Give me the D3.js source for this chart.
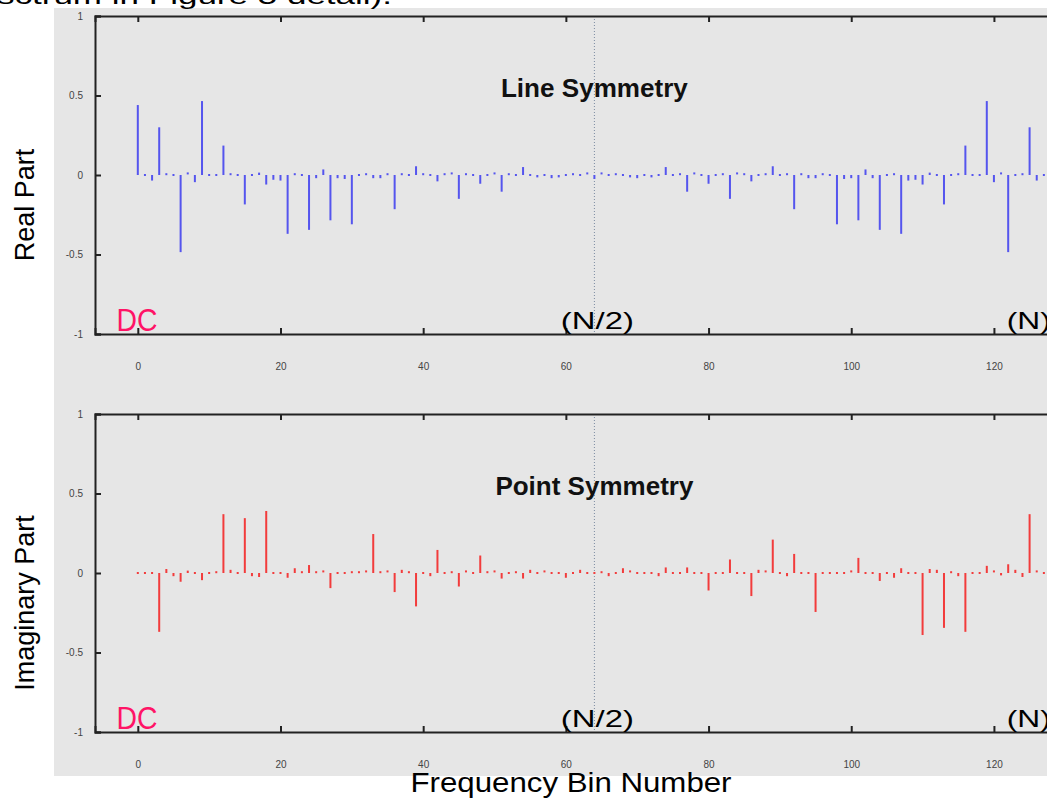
<!DOCTYPE html>
<html>
<head>
<meta charset="utf-8">
<script src="https://cdn.jsdelivr.net/npm/d3@7"></script>
<style>
  body { margin: 0; background: #fff; }
  text { font-family: "Liberation Sans", Arial, sans-serif; }
</style>
</head>
<body>
<svg id="chart" width="1047" height="798"></svg>
<script>
// FFT output, N = 128 bins
const bins = d3.range(0, 128);

const realPart = [
  0.44, -0.01, -0.035, 0.30, 0.005, 0, -0.485, 0.01, -0.045, 0.465, 0, 0, 0.185, 0.005, 0, -0.185,
  -0.01, 0.015, -0.06, -0.03, -0.035, -0.37, 0.005, 0, -0.345, -0.02, 0.035, -0.285, -0.02, -0.025, -0.31, 0,
  0.005, -0.02, -0.02, 0.005, -0.215, 0.005, -0.005, 0.055, 0.005, -0.005, -0.04, 0.005, 0.01, -0.15, 0.005, -0.005,
  -0.055, -0.005, 0.01, -0.105, 0.005, 0, 0.05, -0.01, -0.015, -0.01, -0.02, -0.015, -0.01, 0.005, -0.01, 0.01,
  -0.025, 0.01, -0.01, 0.005, -0.01, -0.015, -0.02, -0.01, -0.015, -0.01, 0.05, 0, 0.005, -0.105, 0.01, -0.005,
  -0.055, -0.005, 0.005, -0.15, 0.01, 0.005, -0.04, -0.005, 0.005, 0.055, -0.005, 0.005, -0.215, 0.005, -0.02, -0.02,
  0.005, 0, -0.31, -0.025, -0.02, -0.285, 0.035, -0.02, -0.345, 0, 0.005, -0.37, -0.035, -0.03, -0.06, 0.015,
  -0.01, -0.185, 0, 0.005, 0.185, 0, 0, 0.465, -0.045, 0.01, -0.485, 0, 0.005, 0.30, -0.035, -0.01
];

const imagPart = [
  0, 0, -0.01, -0.37, 0.025, -0.02, -0.055, 0.015, -0.01, -0.045, 0, 0.005, 0.37, 0.02, -0.005, 0.345,
  -0.02, -0.025, 0.39, 0, 0, -0.03, 0.03, 0.005, 0.05, 0.005, 0.01, -0.095, -0.01, 0, 0.005, 0.005,
  0.01, 0.245, 0.005, 0.01, -0.12, 0.02, 0.005, -0.21, -0.01, -0.02, 0.145, 0, 0.005, -0.085, 0.01, 0,
  0.11, 0.005, 0.01, -0.035, 0, 0.005, -0.035, 0.02, 0, 0.01, 0, -0.01, -0.03, 0, 0.02, -0.005,
  0, 0.005, -0.02, 0, 0.03, 0.01, 0, -0.01, 0, -0.02, 0.035, -0.005, 0, 0.035, -0.01, -0.005,
  -0.11, 0, -0.01, 0.085, -0.005, 0, -0.145, 0.02, 0.01, 0.21, -0.005, -0.02, 0.12, -0.01, -0.005, -0.245,
  -0.01, -0.005, -0.005, 0, 0.01, 0.095, -0.01, -0.005, -0.05, -0.005, -0.03, 0.03, 0, 0, -0.39, 0.025,
  0.02, -0.345, 0.005, -0.02, -0.37, -0.005, 0, 0.045, 0.01, -0.015, 0.055, 0.02, -0.025, 0.37, 0.01, 0
];

const xTicks = [0, 20, 40, 60, 80, 100, 120];
const yTicks = [-1, -0.5, 0, 0.5, 1];
const yTickLabels = { "-1": "-1", "-0.5": "-0.5", "0": "0", "0.5": "0.5", "1": "1" };
const halfBin = 64;

const svg = d3.select("#chart");

// background
svg.append("rect").attr("width", 1047).attr("height", 798).attr("fill", "#fff");
svg.append("rect")
  .attr("x", 54).attr("y", 8)
  .attr("width", 993).attr("height", 768)
  .attr("fill", "#e6e6e6");

// clipped caption line from the page above the figure
svg.append("text")
  .attr("x", -3).attr("y", 4)
  .attr("font-family", "DejaVu Sans, sans-serif")
  .attr("font-size", 24)
  .attr("textLength", 395)
  .attr("lengthAdjust", "spacingAndGlyphs")
  .attr("fill", "#000")
  .text("sctrum in Figure 5 detail).");

const x = d3.scaleLinear().domain([-6, 128]).range([95, 1051]);

function drawPanel(values, color, top, bottom, title, yLabel) {
  const y = d3.scaleLinear().domain([-1, 1]).range([bottom, top]);
  const g = svg.append("g");

  // N/2 marker
  g.append("line")
    .attr("x1", x(halfBin)).attr("x2", x(halfBin))
    .attr("y1", y(1)).attr("y2", y(-1))
    .attr("stroke", "#7a8aa0")
    .attr("stroke-width", 1)
    .attr("stroke-dasharray", "1,2");

  // stems
  g.append("g")
    .selectAll("rect")
    .data(bins)
    .join("rect")
    .attr("x", (k) => x(k) - 1)
    .attr("width", 2)
    .attr("y", (k) => Math.min(y(0), y(values[k])) - (Math.abs(y(values[k]) - y(0)) < 2 ? 1 : 0))
    .attr("height", (k) => Math.max(2, Math.abs(y(values[k]) - y(0))))
    .attr("fill", color);

  // axes
  const left = g.append("g")
    .attr("transform", `translate(${x(-6)},0)`)
    .call(d3.axisLeft(y).tickValues(yTicks).tickSize(-6).tickPadding(12)
      .tickFormat((d) => yTickLabels[String(d)]));
  const bottomAxis = g.append("g")
    .attr("transform", `translate(0,${bottom})`)
    .call(d3.axisBottom(x).tickValues(xTicks).tickSize(-6).tickPadding(29));
  const topAxis = g.append("g")
    .attr("transform", `translate(0,${top})`)
    .call(d3.axisTop(x).tickValues(xTicks).tickSize(-6).tickFormat(""));

  [left, bottomAxis, topAxis].forEach((a) => {
    a.select(".domain").attr("stroke", "#222").attr("stroke-width", 2);
    a.selectAll(".tick line").attr("stroke", "#222").attr("stroke-width", 2);
    a.selectAll(".tick text")
      .attr("font-family", "Liberation Sans, Arial, sans-serif")
      .attr("font-size", 10)
      .attr("fill", "#444");
  });

  // title
  g.append("text")
    .attr("x", x(64)).attr("y", top + 81)
    .attr("text-anchor", "middle")
    .attr("font-size", 25)
    .attr("font-weight", "bold")
    .attr("textLength", title === "Line Symmetry" ? 187 : 198)
    .attr("lengthAdjust", "spacingAndGlyphs")
    .attr("fill", "#111")
    .text(title);

  // annotations
  g.append("text")
    .attr("x", x(-3)).attr("y", bottom - 3)
    .attr("font-size", 32)
    .attr("textLength", 41)
    .attr("lengthAdjust", "spacingAndGlyphs")
    .attr("fill", "#ff1466")
    .text("DC");
  g.append("text")
    .attr("x", x(59.3)).attr("y", bottom - 5)
    .attr("font-family", "DejaVu Sans Mono, monospace")
    .attr("font-size", 24)
    .attr("textLength", 73)
    .attr("lengthAdjust", "spacingAndGlyphs")
    .attr("fill", "#000")
    .text("(N/2)");
  g.append("text")
    .attr("x", x(121.8)).attr("y", bottom - 5)
    .attr("font-family", "DejaVu Sans Mono, monospace")
    .attr("font-size", 24)
    .attr("textLength", 44)
    .attr("lengthAdjust", "spacingAndGlyphs")
    .attr("fill", "#000")
    .text("(N)");

  // y label
  svg.append("text")
    .attr("transform", `translate(34,${(top + bottom) / 2 + 30}) rotate(-90)`)
    .attr("text-anchor", "middle")
    .attr("font-size", 27)
    .attr("fill", "#000")
    .text(yLabel);
}

drawPanel(realPart, "#5555ee", 16, 334, "Line Symmetry", "Real Part");
drawPanel(imagPart, "#f23c3c", 414, 732, "Point Symmetry", "Imaginary Part");

svg.append("text")
  .attr("x", 571).attr("y", 792)
  .attr("text-anchor", "middle")
  .attr("font-size", 28)
  .attr("textLength", 321)
  .attr("lengthAdjust", "spacingAndGlyphs")
  .attr("fill", "#000")
  .text("Frequency Bin Number");
</script>
</body>
</html>
